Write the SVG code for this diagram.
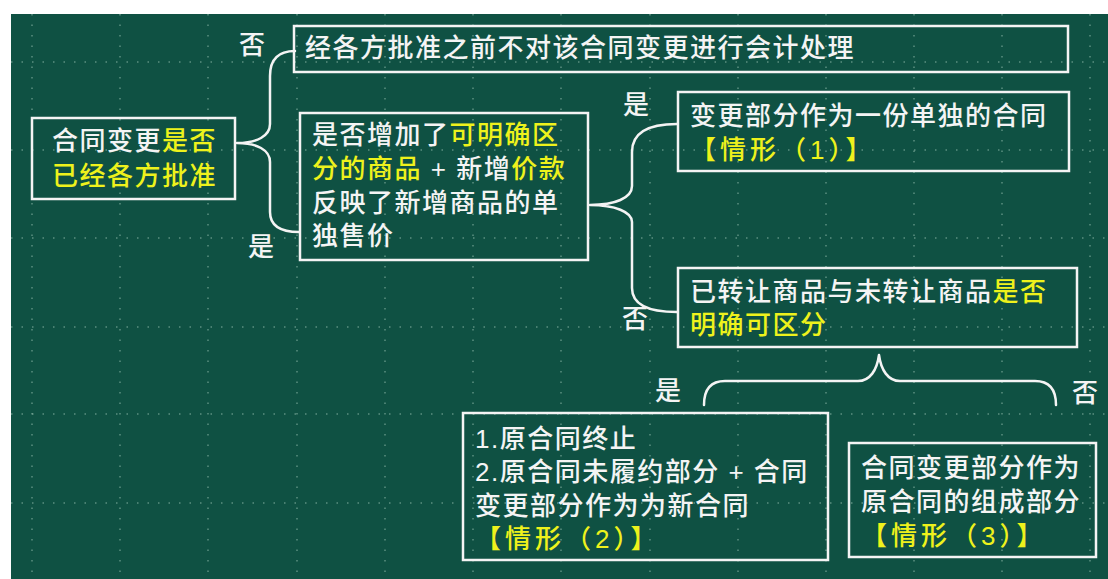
<svg xmlns="http://www.w3.org/2000/svg" width="1108" height="579" viewBox="0 0 1108 579">
<style>
.box{fill:none;stroke:#f4f4f4;stroke-width:2.5}
.br{fill:none;stroke:#f4f4f4;stroke-width:2.5;stroke-linecap:round;stroke-linejoin:round}
.grid{stroke:#9cc4b4;stroke-width:1.5;stroke-dasharray:1.5 9;opacity:0.55}
text{font-family:"Liberation Sans","Noto Sans CJK SC",sans-serif;font-size:26px;font-weight:500;fill:#f4f4f4;letter-spacing:1.5px}
.y{fill:#eef21c}
.tag{letter-spacing:4px}
.lb{text-anchor:middle;letter-spacing:0}
</style>
<rect x="0" y="0" width="1108" height="579" fill="#ffffff"/>
<rect x="11" y="14" width="1097" height="565" fill="#0f5143"/>
<g id="grid">
<path class="grid" d="M11,62H1108M11,150H1108M11,238H1108M11,327H1108M11,414H1108M11,503H1108"/>
<path class="grid" d="M32,14V579M120,14V579M208,14V579M297,14V579M385,14V579M473,14V579M561,14V579M650,14V579M738,14V579M826,14V579M914,14V579M1002,14V579M1090,14V579"/>
</g>
<g id="connectors">
<path class="br" d="M295,51 C280,51 270,58 270,76 L270,124 C270,136 257,143 237,143 C257,143 270,150 270,162 L270,212 C270,226 280,232 299,232"/>
<path class="br" d="M677,124 C650,124 632,132 632,152 L632,186 C632,198 615,205 590,205 C615,205 632,212 632,222 L632,288 C632,304 648,312 677,312"/>
<path class="br" d="M704,405 C704,390 710,381 725,381 L858,381 C870,381 877,370 879,355 C881,370 888,381 900,381 L1035,381 C1050,381 1056,390 1056,405"/>
</g>
<g id="labels">
<text class="lb" x="252" y="54">否</text>
<text class="lb" x="261" y="256">是</text>
<text class="lb" x="636" y="114">是</text>
<text class="lb" x="635" y="328">否</text>
<text class="lb" x="668" y="400">是</text>
<text class="lb" x="1085" y="402">否</text>
</g>
<g id="nodeA">
<rect class="box" x="32" y="118" width="203" height="81"/>
<text x="52" y="150">合同变更<tspan class="y">是否</tspan></text>
<text class="y" x="52" y="185">已经各方批准</text>
</g>
<g id="nodeB">
<rect class="box" x="294" y="26" width="774" height="46"/>
<text x="305" y="57">经各方批准之前不对该合同变更进行会计处理</text>
</g>
<g id="nodeC">
<rect class="box" x="300" y="113" width="288" height="147"/>
<text x="312" y="144">是否增加了<tspan class="y">可明确区</tspan></text>
<text x="312" y="178"><tspan class="y">分的商品</tspan> + 新增<tspan class="y">价款</tspan></text>
<text x="312" y="212">反映了新增商品的单</text>
<text x="312" y="245">独售价</text>
</g>
<g id="nodeD">
<rect class="box" x="678" y="92" width="391" height="79"/>
<text x="690" y="125">变更部分作为一份单独的合同</text>
<text class="y tag" x="690" y="159">【情形（1）】</text>
</g>
<g id="nodeE">
<rect class="box" x="678" y="268" width="399" height="79"/>
<text x="690" y="301">已转让商品与未转让商品<tspan class="y">是否</tspan></text>
<text class="y" x="690" y="334">明确可区分</text>
</g>
<g id="nodeF">
<rect class="box" x="463" y="413" width="365" height="147"/>
<text x="475" y="448">1.原合同终止</text>
<text x="475" y="481">2.原合同未履约部分 + 合同</text>
<text x="475" y="515">变更部分作为为新合同</text>
<text class="y tag" x="475" y="548">【情形（2）】</text>
</g>
<g id="nodeG">
<rect class="box" x="849" y="443" width="247" height="114"/>
<text x="861" y="477">合同变更部分作为</text>
<text x="861" y="511">原合同的组成部分</text>
<text class="y tag" x="861" y="545">【情形（3）】</text>
</g>
</svg>
